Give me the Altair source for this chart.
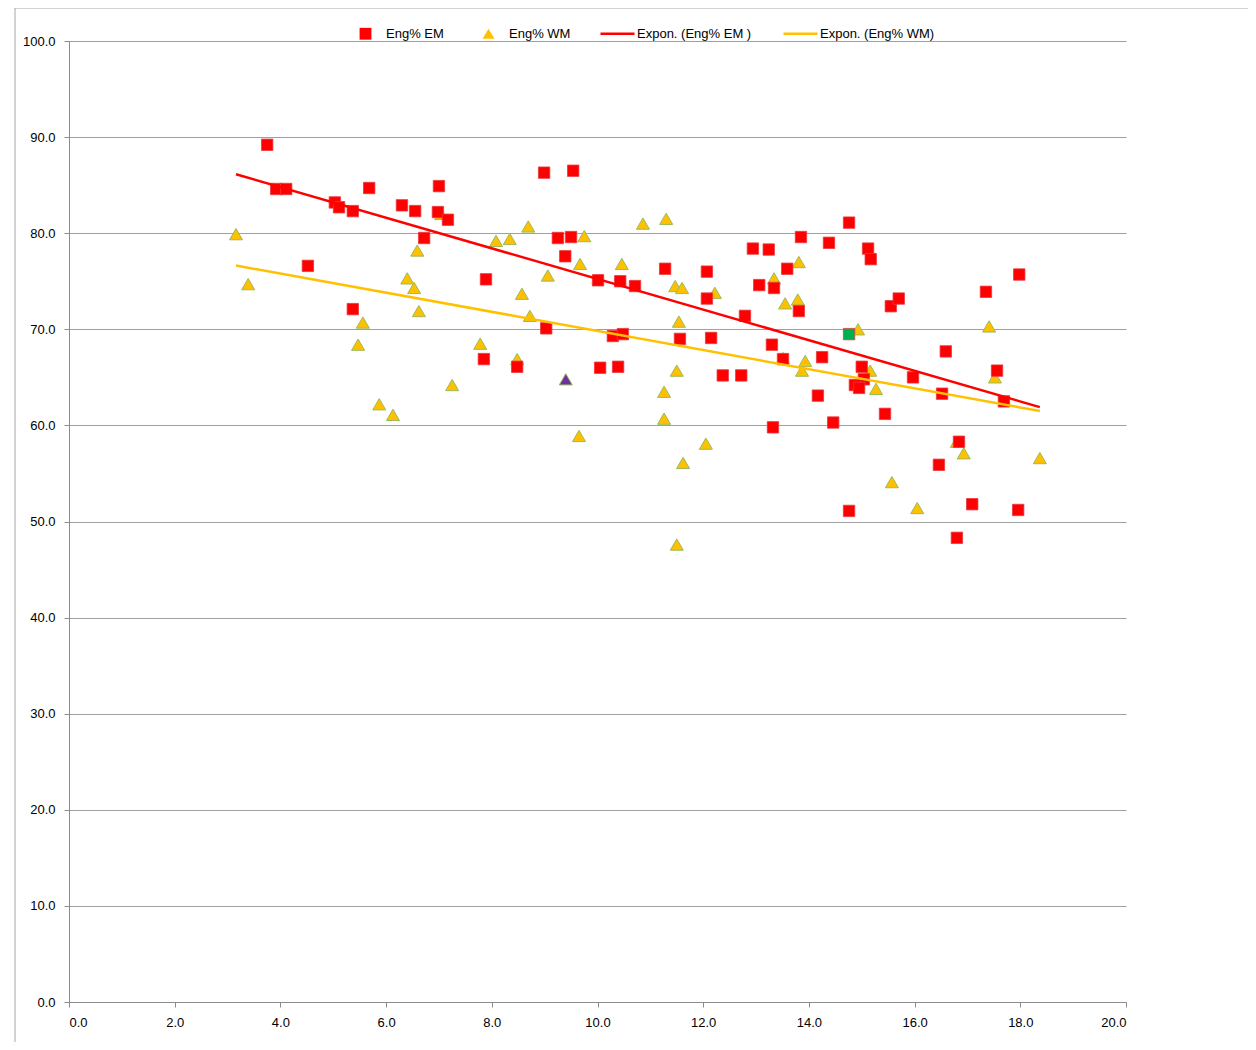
import altair as alt
import pandas as pd

# ---- data ----
em_x = [3.75, 3.92, 4.11, 4.52, 5.03, 5.11, 5.37, 5.37, 5.68, 6.30, 6.55, 6.72, 7.00, 6.98, 7.17,
        7.85, 7.89, 8.48, 8.99, 9.54, 9.03, 9.25, 9.50, 9.39, 10.01, 10.05, 10.29, 10.43, 10.48,
        10.39, 10.71, 11.28, 11.56, 12.07, 12.07, 12.15, 12.37, 12.72, 12.79, 12.94, 13.06, 13.24,
        13.34, 13.30, 13.32, 13.51, 13.59, 13.81, 13.85, 14.17, 14.25, 14.38, 14.46, 14.76, 14.76,
        15.00, 15.04, 14.87, 14.95, 15.12, 15.17, 15.44, 15.55, 15.70, 15.97, 16.46, 16.52, 16.59,
        16.80, 16.84, 17.09, 17.35, 17.56, 17.69, 17.96, 17.98]
em_y = [89.2, 84.6, 84.6, 76.6, 83.2, 82.7, 82.3, 72.1, 84.7, 82.9, 82.3, 79.5, 84.9, 82.2, 81.4,
        66.9, 75.2, 66.1, 86.3, 86.5, 70.1, 79.5, 79.6, 77.6, 75.1, 66.0, 69.3, 75.0, 69.5,
        66.1, 74.5, 76.3, 69.0, 76.0, 73.2, 69.1, 65.2, 65.2, 71.4, 78.4, 74.6, 78.3,
        74.3, 68.4, 59.8, 66.9, 76.3, 71.9, 79.6, 63.1, 67.1, 79.0, 60.3, 81.1, 51.1,
        66.1, 64.8, 64.2, 63.9, 78.4, 77.3, 61.2, 72.4, 73.2, 65.0, 55.9, 63.3, 67.7,
        48.3, 58.3, 51.8, 73.9, 65.7, 62.5, 51.2, 75.7]
em_hl_x = [14.76]
em_hl_y = [69.5]

wm_x = [3.16, 3.39, 5.56, 5.47, 5.87, 6.13, 6.40, 6.53, 6.59, 6.62, 7.04, 7.25, 7.78, 8.08, 8.34,
        8.48, 8.57, 8.69, 8.72, 9.06, 9.65, 9.67, 9.75, 10.46, 10.86, 11.26, 11.26, 11.30,
        11.47, 11.60, 11.50, 11.54, 11.62, 11.50, 12.05, 12.22, 13.34, 13.55, 13.51, 13.79, 13.81,
        13.87, 13.93, 14.93, 15.16, 15.27, 15.57, 16.05, 16.80, 16.93, 17.41, 17.52, 18.37]
wm_y = [79.9, 74.7, 70.7, 68.4, 62.2, 61.1, 75.3, 74.3, 78.2, 71.9, 82.0, 64.2, 68.5, 79.2, 79.4,
        66.9, 73.7, 80.7, 71.4, 75.6, 58.9, 76.8, 79.7, 76.8, 81.0, 63.5, 60.7, 81.5,
        74.5, 74.3, 65.7, 70.8, 56.1, 47.6, 58.1, 73.8, 75.3, 72.7, 67.0, 73.1, 77.0,
        65.7, 66.7, 70.0, 65.7, 63.8, 54.1, 51.4, 58.3, 57.1, 70.3, 65.0, 56.6]
wm_hl_x = [9.40]
wm_hl_y = [64.8]

x_ticks = [0, 2, 4, 6, 8, 10, 12, 14, 16, 18, 20]
y_ticks = [0, 10, 20, 30, 40, 50, 60, 70, 80, 90, 100]

em_label = "Eng% EM"
wm_label = "Eng% WM"
em_fit_label = "Expon. (Eng% EM )"
wm_fit_label = "Expon. (Eng% WM)"

RED = "#FF0000"
GOLD = "#FFC000"
FONT = "Liberation Sans Narrow, Liberation Sans, sans-serif"

em_df = pd.DataFrame({"x": em_x, "y": em_y, "series": em_label})
em_hl_df = pd.DataFrame({"x": em_hl_x, "y": em_hl_y, "series": em_label})
wm_df = pd.DataFrame({"x": wm_x, "y": wm_y, "series": wm_label})
wm_hl_df = pd.DataFrame({"x": wm_hl_x, "y": wm_hl_y, "series": wm_label})

fit_df = pd.concat([
    pd.DataFrame({"x": em_x + em_hl_x, "y": em_y + em_hl_y, "fit": em_fit_label}),
    pd.DataFrame({"x": wm_x + wm_hl_x, "y": wm_y + wm_hl_y, "fit": wm_fit_label}),
])
x_min = min(em_x + wm_x + em_hl_x + wm_hl_x)
x_max = max(em_x + wm_x + em_hl_x + wm_hl_x)

xs = alt.Scale(domain=[0, 20], nice=False, zero=False)
ys = alt.Scale(domain=[0, 100], nice=False)

x_enc = alt.X("x:Q", scale=xs, title=None,
              axis=alt.Axis(values=x_ticks, format=".1f", grid=False, labelPadding=9))
y_enc = alt.Y("y:Q", scale=ys, title=None,
              axis=alt.Axis(values=y_ticks, format=".1f", grid=True, labelPadding=9))

color_scale = alt.Scale(domain=[em_label, wm_label], range=[RED, GOLD])
shape_scale = alt.Scale(domain=[em_label, wm_label], range=["square", "triangle-up"])

pt_legend = alt.Legend(title=None, orient="none", legendX=290, legendY=-14,
                       direction="horizontal", symbolSize=140, labelOffset=14,
                       columnPadding=38, padding=0, labelFontSize=13, labelFont=FONT,
                       symbolStrokeWidth=0)

# Excel-style exponential trendline: least squares on ln(y), then back-transformed
fits = alt.Chart(fit_df).transform_calculate(
    ly="log(datum.y)"
).transform_regression(
    "x", "ly", groupby=["fit"], method="linear", extent=[x_min, x_max]
).transform_calculate(
    y="exp(datum.ly)"
).mark_line(strokeWidth=2.5).encode(
    x=x_enc, y=y_enc,
    stroke=alt.Stroke("fit:N",
                      scale=alt.Scale(domain=[em_fit_label, wm_fit_label], range=[RED, GOLD]),
                      legend=alt.Legend(title=None, orient="none", legendX=530, legendY=-26,
                                        direction="horizontal", symbolType="stroke",
                                        symbolSize=1156, symbolStrokeWidth=2.5,
                                        labelOffset=1, columnPadding=26, padding=0,
                                        labelFontSize=13, labelFont=FONT)),
)

wm_pts = alt.Chart(wm_df).mark_point(filled=True, size=170, opacity=1,
                                     stroke="#9BBB59", strokeWidth=1).encode(
    x=x_enc, y=y_enc,
    color=alt.Color("series:N", scale=color_scale, legend=pt_legend),
    shape=alt.Shape("series:N", scale=shape_scale, legend=pt_legend),
)
em_pts = alt.Chart(em_df).mark_point(filled=True, size=130, opacity=1,
                                     stroke="#E8383F", strokeWidth=0.8).encode(
    x=x_enc, y=y_enc,
    color=alt.Color("series:N", scale=color_scale, legend=pt_legend),
    shape=alt.Shape("series:N", scale=shape_scale, legend=pt_legend),
)
em_hl = alt.Chart(em_hl_df).mark_point(filled=True, size=130, opacity=1,
                                       stroke="#E8383F", strokeWidth=0.8).encode(
    x=x_enc, y=y_enc,
    fill=alt.value("#00B050"),
    shape=alt.Shape("series:N", scale=shape_scale, legend=pt_legend),
)
wm_hl = alt.Chart(wm_hl_df).mark_point(filled=True, size=170, opacity=1,
                                       stroke="#9BBB59", strokeWidth=1).encode(
    x=x_enc, y=y_enc,
    fill=alt.value("#7030A0"),
    shape=alt.Shape("series:N", scale=shape_scale, legend=pt_legend),
)

# chart-area frame (top and left edges visible in the reference)
frame_top = alt.Chart(pd.DataFrame({"a": [0]})).mark_rule(color="#A6A6A6", strokeWidth=1).encode(
    x=alt.value(-54), x2=alt.value(1300), y=alt.value(-33))
frame_left = alt.Chart(pd.DataFrame({"a": [0]})).mark_rule(color="#A6A6A6", strokeWidth=1).encode(
    x=alt.value(-54), y=alt.value(-33), y2=alt.value(1100))

chart = alt.layer(frame_top, frame_left, wm_pts, em_pts, em_hl, wm_hl, fits).resolve_scale(
    color="shared", shape="shared"
).properties(
    width=1057, height=961,
    autosize=alt.AutoSizeParams(type="none"),
    padding={"left": 61, "top": 33, "right": 122, "bottom": 40},
).configure_view(stroke=None).configure_axis(
    labelFont=FONT, labelFontSize=13, labelColor="#000000",
    domainColor="#8C8C8C", tickColor="#8C8C8C", tickSize=5,
    gridColor="#A0A0A0", gridWidth=1,
).configure_legend(labelColor="#000000")

chart.save("out.html", embed_options={"renderer": "svg", "actions": False})
